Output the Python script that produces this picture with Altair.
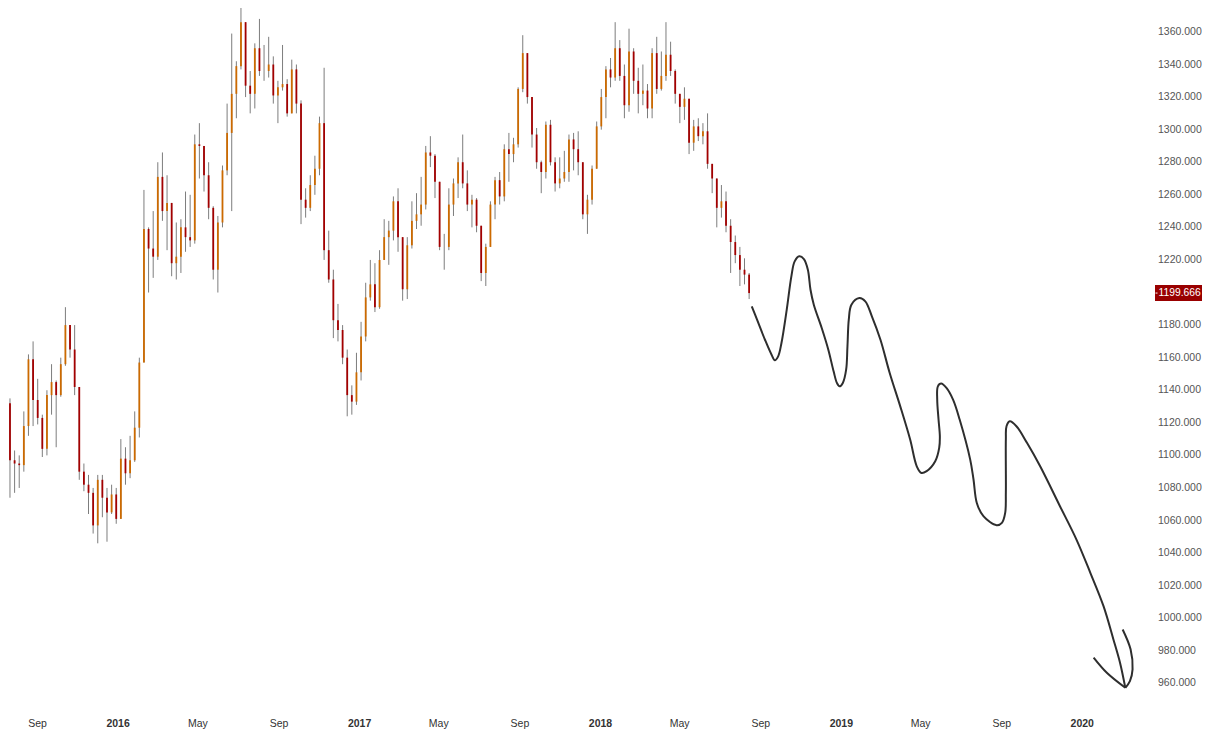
import altair as alt
import pandas as pd

# ---------------- data ----------------
week_start = "2015-07-06"   # Monday of the first weekly candle
first_open = 1165.0

closes = [
    1157, 1132, 1097, 1095, 1094, 1118, 1159, 1134, 1123, 1104,
    1137, 1145, 1137, 1156, 1180, 1165, 1142, 1090, 1082, 1077,
    1057, 1085, 1074, 1065, 1076, 1061, 1098, 1089, 1097, 1117,
    1157, 1239, 1227, 1222, 1271, 1250, 1255, 1218, 1222, 1240,
    1234, 1232, 1291, 1290, 1272, 1252, 1214, 1243, 1275, 1298,
    1322, 1339, 1366, 1327, 1322, 1350, 1336, 1336, 1340, 1321,
    1326, 1328, 1310, 1337, 1316, 1257, 1252, 1266, 1276, 1304,
    1226, 1208, 1183, 1177, 1160, 1137, 1133, 1151, 1173, 1197,
    1205, 1191, 1220, 1234, 1238, 1256, 1234, 1202, 1229, 1244,
    1248, 1254, 1286, 1284, 1268, 1228, 1228, 1254, 1267, 1280,
    1267, 1254, 1257, 1241, 1212, 1228, 1254, 1269, 1259, 1288,
    1285, 1291, 1325, 1347, 1320, 1297, 1280, 1274, 1303, 1280,
    1267, 1270, 1274, 1294, 1288, 1280, 1248, 1257, 1276, 1302,
    1320, 1337, 1332, 1350, 1333, 1315, 1348, 1330, 1322, 1324,
    1313, 1347, 1325, 1333, 1346, 1336, 1322, 1314, 1319, 1292,
    1302, 1296, 1299, 1279, 1270, 1252, 1256, 1241, 1231, 1223,
    1214, 1211, 1199.666,
]
highs = [
    1170, 1165, 1135, 1103, 1100, 1127, 1162, 1170, 1147, 1125,
    1140, 1156, 1146, 1160, 1191, 1180, 1180, 1142, 1095, 1088,
    1080, 1088, 1088, 1080, 1082, 1080, 1110, 1105, 1112, 1127,
    1160, 1263, 1240, 1250, 1280, 1286, 1272, 1255, 1243, 1245,
    1262, 1260, 1297, 1304, 1289, 1280, 1253, 1247, 1278, 1316,
    1359, 1342, 1376, 1366, 1336, 1353, 1368, 1352, 1357, 1345,
    1330, 1352, 1331, 1343, 1340, 1318, 1264, 1272, 1284, 1308,
    1338, 1238, 1214, 1193, 1180, 1165, 1143, 1163, 1182, 1206,
    1220, 1218, 1226, 1245, 1244, 1259, 1264, 1234, 1234, 1256,
    1261, 1271, 1290, 1296, 1285, 1267, 1236, 1264, 1270, 1283,
    1297, 1275, 1260, 1258, 1241, 1230, 1256, 1271, 1274, 1291,
    1298, 1295, 1326, 1358, 1347, 1320, 1301, 1281, 1305, 1306,
    1283, 1283, 1287, 1297, 1298, 1299, 1280, 1260, 1278, 1305,
    1325, 1339, 1344, 1366, 1355, 1340, 1362, 1350, 1338, 1340,
    1328, 1350, 1357, 1348, 1366, 1354, 1337, 1322, 1326, 1319,
    1306, 1307, 1304, 1310, 1279, 1266, 1266, 1262, 1245, 1235,
    1228, 1221, 1212,
]
lows = [
    1147, 1130, 1074, 1077, 1080, 1090, 1112, 1118, 1119, 1099,
    1100, 1125, 1105, 1136, 1155, 1160, 1137, 1085, 1078, 1064,
    1052, 1046, 1062, 1047, 1064, 1058, 1061, 1082, 1086, 1096,
    1111, 1157, 1200, 1209, 1220, 1244, 1226, 1210, 1208, 1212,
    1225, 1228, 1230, 1270, 1262, 1245, 1208, 1200, 1240, 1272,
    1250, 1307, 1337, 1320, 1310, 1313, 1333, 1330, 1332, 1316,
    1304, 1324, 1308, 1310, 1310, 1242, 1246, 1250, 1260, 1272,
    1220, 1206, 1172, 1170, 1156, 1124, 1125, 1131, 1146, 1170,
    1195, 1188, 1190, 1222, 1217, 1232, 1225, 1195, 1196, 1227,
    1239, 1241, 1251, 1277, 1258, 1226, 1214, 1226, 1247, 1258,
    1264, 1250, 1240, 1237, 1207, 1204, 1229, 1245, 1254, 1256,
    1268, 1280, 1289, 1323, 1316, 1289, 1276, 1261, 1270, 1278,
    1262, 1264, 1268, 1268, 1275, 1272, 1245, 1236, 1254, 1276,
    1300, 1307, 1326, 1330, 1330, 1307, 1311, 1322, 1310, 1315,
    1307, 1307, 1322, 1324, 1330, 1333, 1316, 1304, 1306, 1285,
    1287, 1293, 1291, 1276, 1261, 1240, 1246, 1237, 1212, 1218,
    1204, 1205, 1196,
]

# hand-drawn forecast path (date, price)
fc_main_dates = [
    "2018-08-19", "2018-08-27", "2018-09-08", "2018-09-18", "2018-09-23",
    "2018-09-28", "2018-10-03", "2018-10-11", "2018-10-18", "2018-10-23",
    "2018-10-30", "2018-11-06", "2018-11-12", "2018-11-16", "2018-11-21",
    "2018-12-03", "2018-12-13", "2018-12-21", "2018-12-26", "2018-12-30",
    "2019-01-04", "2019-01-09", "2019-01-11", "2019-01-13", "2019-01-17",
    "2019-01-29", "2019-02-07", "2019-02-17", "2019-03-02", "2019-03-16",
    "2019-04-01", "2019-04-16", "2019-04-26", "2019-05-03", "2019-05-11",
    "2019-05-24", "2019-05-30", "2019-05-31", "2019-05-29", "2019-05-27",
    "2019-05-28", "2019-06-02", "2019-06-10", "2019-06-20", "2019-06-30",
    "2019-07-16", "2019-07-21", "2019-07-26", "2019-08-05", "2019-08-25",
    "2019-09-02", "2019-09-07", "2019-09-08", "2019-09-08", "2019-09-09",
    "2019-09-14", "2019-09-24", "2019-10-10", "2019-10-30", "2019-11-29",
    "2019-12-24", "2020-01-14", "2020-02-03", "2020-02-18", "2020-02-28",
    "2020-03-07",
]
fc_main_prices = [
    1191.5, 1183.3, 1171.0, 1161.8, 1158.4,
    1160.8, 1169.0, 1189.5, 1209.9, 1219.1,
    1222.2, 1220.5, 1214.0, 1201.7, 1192.5,
    1178.2, 1164.9, 1151.6, 1144.5, 1142.4,
    1144.5, 1152.6, 1167.0, 1183.3, 1192.5,
    1196.6, 1194.6, 1185.4, 1171.0, 1150.6,
    1130.1, 1109.7, 1093.3, 1089.2, 1090.3,
    1096.4, 1104.6, 1111.7, 1122.0, 1134.2,
    1142.4, 1144.1, 1141.4, 1134.2, 1122.0,
    1097.4, 1085.2, 1070.8, 1062.7, 1057.1,
    1058.6, 1064.7, 1077.0, 1109.7, 1117.9,
    1120.9, 1117.9, 1107.7, 1093.3, 1068.8,
    1048.3, 1027.9, 1007.4, 987.0, 972.7,
    957.3,
]
fc_right_dates = ["2020-03-07", "2020-03-14", "2020-03-18", "2020-03-15", "2020-03-03"]
fc_right_prices = [957.3, 961.4, 968.6, 980.9, 993.1]
fc_left_dates = ["2020-01-19", "2020-02-08", "2020-03-07"]
fc_left_prices = [975.8, 966.5, 957.3]

last_price = 1199.666

y_ticks = [960, 980, 1000, 1020, 1040, 1060, 1080, 1100, 1120, 1140, 1160,
           1180, 1220, 1240, 1260, 1280, 1300, 1320, 1340, 1360]
x_ticks = ["2015-09-01", "2016-01-01", "2016-05-01", "2016-09-01", "2017-01-01",
           "2017-05-01", "2017-09-01", "2018-01-01", "2018-05-01", "2018-09-01",
           "2019-01-01", "2019-05-01", "2019-09-01", "2020-01-01"]

# ---------------- tables ----------------
n = len(closes)
weeks = pd.date_range(week_start, periods=n, freq="7D") + pd.Timedelta(days=2)
opens = [first_open] + closes[:-1]
rows = []
for d, o, h, l, c in zip(weeks, opens, highs, lows, closes):
    rows.append({
        "date": d, "open": o, "close": c,
        "high": max(h, o, c), "low": min(l, o, c),
        "dir": "up" if c >= o else "down",
    })
cdf = pd.DataFrame(rows)

frows = []
for seg, (ds, ps) in enumerate([(fc_main_dates, fc_main_prices),
                                (fc_right_dates, fc_right_prices),
                                (fc_left_dates, fc_left_prices)]):
    for i, (d, p) in enumerate(zip(ds, ps)):
        frows.append({"date": pd.Timestamp(d), "price": p, "seg": seg, "order": i})
fdf = pd.DataFrame(frows)

ldf = pd.DataFrame({"price": [last_price]})
ydf = pd.DataFrame({"v": y_ticks})


def dt(s):
    return alt.DateTime(year=int(s[:4]), month=int(s[5:7]), date=int(s[8:10]))


PLOT_W = 1147
PLOT_H = 706

x_scale = alt.Scale(domain=[dt("2015-07-19"), dt("2020-04-21")], nice=False)
y_scale = alt.Scale(domain=[941.2, 1374.7], nice=False, zero=False)

x_axis = alt.Axis(
    values=[dt(s) for s in x_ticks],
    labelExpr="month(datum.value) == 0 ? timeFormat(datum.value, '%Y') : timeFormat(datum.value, '%b')",
    labelFontWeight={"condition": {"test": "month(datum.value) == 0", "value": "bold"}, "value": "normal"},
    labelFont="Liberation Sans", labelFontSize=10.5, labelColor="#333333", labelPadding=4,
    domain=False, ticks=False, grid=False, labelOverlap=False, labelFlush=False,
)

wicks = alt.Chart(cdf).mark_rule(color="#7d7d7d", strokeWidth=1, clip=True).encode(
    x=alt.X("date:T", scale=x_scale, axis=x_axis, title=None),
    y=alt.Y("low:Q", scale=y_scale, axis=None),
    y2="high:Q",
)
bodies = alt.Chart(cdf).mark_rule(strokeWidth=1.8, clip=True).encode(
    x=alt.X("date:T", title=None),
    y=alt.Y("open:Q", axis=None),
    y2="close:Q",
    color=alt.Color("dir:N", scale=alt.Scale(domain=["up", "down"], range=["#cc6a00", "#a30000"]), legend=None),
)
forecast = alt.Chart(fdf).mark_line(color="#2e2e2e", strokeWidth=2, interpolate="catmull-rom", clip=True).encode(
    x=alt.X("date:T", title=None),
    y=alt.Y("price:Q", axis=None),
    detail="seg:N",
    order="order:Q",
)
ylabels = alt.Chart(ydf).mark_text(align="left", baseline="middle", color="#555555",
                                   font="Liberation Sans", fontSize=10.5).encode(
    x=alt.value(PLOT_W + 3), y=alt.Y("v:Q", axis=None),
    text=alt.Text("v:Q", format=".3f"),
)
box = alt.Chart(ldf).transform_calculate(
    top="datum.price + 4.9", bot="datum.price - 4.9"
).mark_rect(color="#990000").encode(
    x=alt.value(PLOT_W), x2=alt.value(PLOT_W + 47),
    y=alt.Y("top:Q", axis=None), y2="bot:Q",
)
tick = alt.Chart(ldf).mark_rule(color="white", strokeWidth=1).encode(
    x=alt.value(PLOT_W + 0.5), x2=alt.value(PLOT_W + 2.5), y=alt.Y("price:Q", axis=None),
)
label = alt.Chart(ldf).mark_text(align="left", baseline="middle", color="white",
                                 font="Liberation Sans", fontSize=10.3).encode(
    x=alt.value(PLOT_W + 3.5), y=alt.Y("price:Q", axis=None),
    text=alt.Text("price:Q", format=".3f"),
)

chart = alt.layer(wicks, bodies, forecast, ylabels, box, tick, label).properties(
    width=PLOT_W, height=PLOT_H, padding=0, background="white"
).configure_view(strokeWidth=0)

chart.save("out.html", embed_options={"renderer": "svg", "actions": False})
